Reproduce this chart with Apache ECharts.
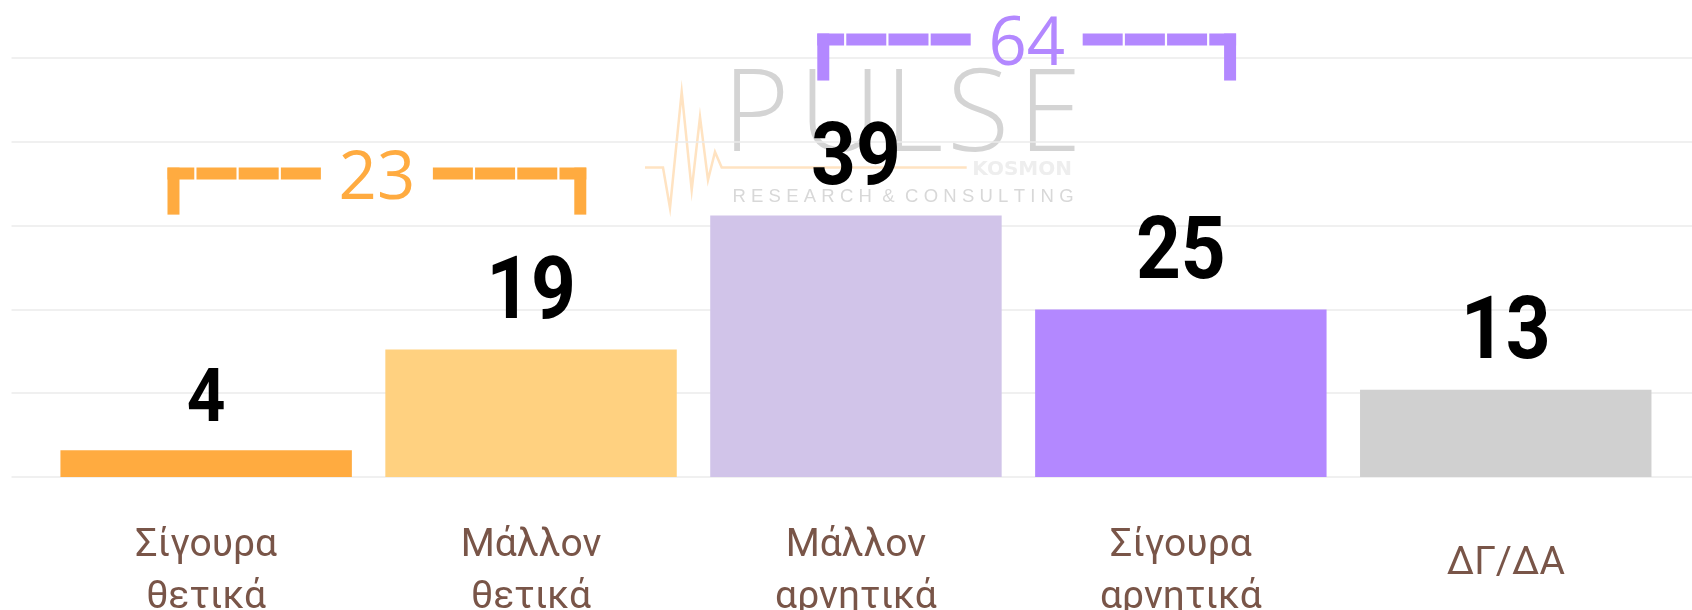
<!DOCTYPE html>
<html>
<head>
<meta charset="utf-8">
<script src="https://cdn.jsdelivr.net/npm/echarts@6/dist/echarts.min.js"></script>
<style>
html,body{margin:0;padding:0;background:#fff;}
#c{width:1692px;height:610px;}
</style>
</head>
<body>
<div id="c"></div>
<script>
// ---- data ----
var categories = ['Σίγουρα\nθετικά', 'Μάλλον\nθετικά', 'Μάλλον\nαρνητικά', 'Σίγουρα\nαρνητικά', 'ΔΓ/ΔΑ'];
var values = [4, 19, 39, 25, 13];
var barColors = ['#FFAB40', '#FFD180', '#D1C4E9', '#B388FF', '#D0D0D0'];
// brackets: [first category index, last category index, total]
var bracketA = [0, 1, 23];
var bracketB = [2, 3, 64];
var bracketColors = ['#FFAB40', '#B388FF'];
var yTicks = [0, 12.5, 25, 37.5, 50, 62.5];

var chart = echarts.init(document.getElementById('c'), null, {renderer: 'canvas'});

var yMax = yTicks[yTicks.length - 1];
var yStep = yTicks[1] - yTicks[0];

function renderBracket(params, api) {
  var s = api.value(0), e = api.value(1), total = api.value(2);
  var top = Math.max.apply(null, values.slice(s, e + 1));
  var p0 = api.coord([s, top]);
  var p1 = api.coord([e, top]);
  var band = api.size([1, 0])[0];
  var x0 = p0[0] - band * 0.119;
  var x1 = p1[0] + band * 0.170;
  var th = 12;
  var yTop = p0[1] - 182;
  var yMid = yTop + th / 2;
  var legBottom = p0[1] - 135;
  var cx = (x0 + x1) / 2;
  var gap = 56;
  var color = bracketColors[params.dataIndex];
  return {
    type: 'group',
    children: [
      {type: 'rect', shape: {x: x0, y: yTop, width: th, height: legBottom - yTop}, style: {fill: color}},
      {type: 'rect', shape: {x: x1 - th, y: yTop, width: th, height: legBottom - yTop}, style: {fill: color}},
      {type: 'line', shape: {x1: cx - gap, y1: yMid, x2: x0, y2: yMid},
        style: {stroke: color, lineWidth: th, lineDash: [40, 2.2], lineCap: 'butt'}},
      {type: 'line', shape: {x1: cx + gap, y1: yMid, x2: x1, y2: yMid},
        style: {stroke: color, lineWidth: th, lineDash: [40, 2.2], lineCap: 'butt'}},
      {type: 'text', style: {text: String(total), x: cx, y: yMid + 6.5, align: 'center', verticalAlign: 'middle',
        fill: color, font: '400 67px "Open Sans", "Noto Sans", sans-serif'}}
    ]
  };
}

function renderValueLabel(params, api) {
  var idx = api.value(0), v = api.value(1);
  var p = api.coord([idx, v]);
  var fs = v < 10 ? 75 : 87;
  return {
    type: 'text', x: p[0], y: p[1] - 10, scaleX: 0.9,
    style: {text: String(v), x: 0, y: 0, align: 'center', verticalAlign: 'bottom',
      fill: '#000', font: 'bold ' + fs + 'px Roboto, "Liberation Sans", sans-serif'}
  };
}

var PF = '300 114px "Open Sans", sans-serif';
var option = {
  backgroundColor: '#ffffff',
  animation: false,
  graphic: [
    {type: 'polyline', z: 0, silent: true,
      shape: {points: [[645,167.5],[663,167.5],[670,208],[681.7,92],[691.7,190],[700,117],[708,180],[715,152],[721.7,167.5],[966.7,167.5]]},
      style: {stroke: '#FFE3C2', lineWidth: 2.5, fill: null}},
    {type: 'text', z: 0, silent: true, style: {text: 'P', x: 756, y: 119, align: 'center', verticalAlign: 'middle', fill: '#D4D4D4', font: PF}},
    {type: 'text', z: 0, silent: true, style: {text: 'U', x: 840, y: 119, align: 'center', verticalAlign: 'middle', fill: '#D4D4D4', font: PF}},
    {type: 'text', z: 0, silent: true, style: {text: 'L', x: 914, y: 119, align: 'center', verticalAlign: 'middle', fill: '#D4D4D4', font: PF}},
    {type: 'text', z: 0, silent: true, style: {text: 'S', x: 978, y: 119, align: 'center', verticalAlign: 'middle', fill: '#D4D4D4', font: PF}},
    {type: 'text', z: 0, silent: true, style: {text: 'E', x: 1050, y: 119, align: 'center', verticalAlign: 'middle', fill: '#D4D4D4', font: PF}},
    {type: 'text', z: 0, silent: true, style: {text: 'KOSMON', x: 1072, y: 169.5, align: 'right', verticalAlign: 'middle', fill: '#EEEEEE', font: '900 20px "DejaVu Sans", sans-serif'}},
    {type: 'text', z: 0, silent: true, style: {text: 'R\u2009\u200aE\u2009\u200aS\u2009\u200aE\u2009\u200aA\u2009\u200aR\u2009\u200aC\u2009\u200aH\u2009\u200a &\u2009\u200a C\u2009\u200aO\u2009\u200aN\u2009\u200aS\u2009\u200aU\u2009\u200aL\u2009\u200aT\u2009\u200aI\u2009\u200aN\u2009\u200aG', x: 903, y: 197, align: 'center', verticalAlign: 'middle', fill: '#D8D8D8', font: '400 18.5px "Liberation Sans", sans-serif'}}
  ],
  grid: [
    {left: 43.7, right: 23.8, top: 58, bottom: 133, outerBoundsMode: 'none', containLabel: false},
    {left: 11.5, right: 0, top: 58, bottom: 133, outerBoundsMode: 'none', containLabel: false}
  ],
  xAxis: [
    {type: 'category', gridIndex: 0, data: categories,
      axisLine: {show: false}, axisTick: {show: false}, splitLine: {show: false},
      axisLabel: {margin: 95, verticalAlign: 'middle', fontSize: 39, lineHeight: 52, color: '#795548',
        fontFamily: 'Roboto, "Liberation Sans", sans-serif', fontWeight: 400, interval: 0,
        formatter: function (v) { return v.indexOf('\n') < 0 ? '{one|' + v + '}' : v; },
        rich: {one: {fontSize: 39, lineHeight: 52, color: '#795548', fontFamily: 'Roboto, "Liberation Sans", sans-serif', padding: [0, 0, 16, 0]}}}},
    {type: 'value', gridIndex: 1, show: false}
  ],
  yAxis: [
    {type: 'value', gridIndex: 0, min: 0, max: yMax, interval: yStep, show: false},
    {type: 'value', gridIndex: 1, min: 0, max: yMax, interval: yStep,
      axisLine: {show: false}, axisTick: {show: false}, axisLabel: {show: false},
      splitLine: {show: true, lineStyle: {color: '#EBEBEB', width: 1.5}}}
  ],
  series: [
    {type: 'bar', xAxisIndex: 0, yAxisIndex: 0, barCategoryGap: '10.3%', z: 2,
      data: values.map(function (v, i) { return {value: v, itemStyle: {color: barColors[i]}}; })},
    {type: 'custom', xAxisIndex: 0, yAxisIndex: 0, clip: false, z: 6,
      data: values.map(function (v, i) { return [i, v]; }),
      renderItem: renderValueLabel},
    {type: 'custom', xAxisIndex: 0, yAxisIndex: 0, clip: false, z: 5,
      data: [bracketA, bracketB],
      renderItem: renderBracket}
  ]
};
chart.setOption(option);
</script>
</body>
</html>
